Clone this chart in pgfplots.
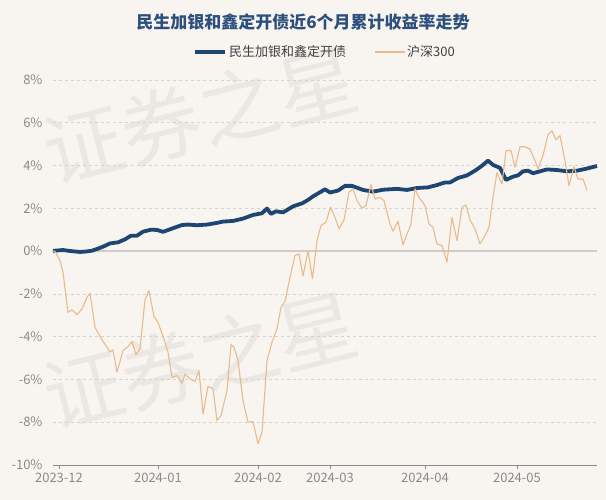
\documentclass[border=0pt]{standalone}
\usepackage{fontspec}
\setmainfont{Noto Sans CJK SC}
\usepackage{pgfplots}
\pgfplotsset{compat=1.18}
\definecolor{bg}{HTML}{F8F5F1}
\definecolor{navy}{HTML}{1F4670}
\definecolor{tanc}{HTML}{E8BB8C}
\definecolor{titleblue}{HTML}{2C4F7C}
\definecolor{ticktext}{HTML}{8A8A8A}
\definecolor{gridc}{HTML}{D6D3CF}
\definecolor{zeroc}{HTML}{CFCDCB}
\begin{document}
\begin{tikzpicture}[x=1pt,y=1pt]
\fill[bg] (0pt,0pt) rectangle (606pt,500pt);
\useasboundingbox (0pt,0pt) rectangle (606pt,500pt);
\foreach \cx/\cy in {200/385, 200/140}{
  \node[rotate=14, text=black, opacity=0.05, font=\fontsize{80}{80}\selectfont] at (\cx pt,\cy pt) {证券之星};
}
\node[font=\fontsize{17}{20}\selectfont\bfseries, text=titleblue] at (303pt,478pt) {民生加银和鑫定开债近6个月累计收益率走势};
\begin{axis}[
  name=ax,
  at={(53pt,35pt)}, anchor=south west, scale only axis,
  width=544pt, height=385pt,
  xmin=53, xmax=597, ymin=-10, ymax=8,
  ytick={-10,-8,...,8},
  yticklabel={\pgfmathprintnumber{\tick}\%},
  xtick={59,158,258,330,425,517},
  xticklabels={2023-12,2024-01,2024-02,2024-03,2024-04,2024-05},
  /pgf/number format/assume math mode=true,
  tick label style={text=ticktext, font=\fontsize{13}{15}\selectfont},
  yticklabel style={xshift=-3pt},
  xticklabel style={yshift=-1pt},
  axis lines*=left,
  axis line style={-},
  x axis line style={draw=ticktext, line width=0.6pt},
  y axis line style={draw=none},
  ytick style={draw=none},
  xtick style={draw=ticktext, line width=0.6pt},
  tick align=outside,
  major tick length=4pt,
  ymajorgrids,
  grid style={dashed, gridc, line width=0.7pt},
  clip=false,
  legend columns=2,
  legend style={at={(0.5,1)}, anchor=center, yshift=28pt, draw=none, fill=none,
    font=\fontsize{13}{15}\selectfont, text=black!75,
    /tikz/every even column/.append style={column sep=26pt}},
  legend image code/.code={\draw[#1] (0pt,0pt) -- (30pt,0pt);},
]
\addplot[zeroc, line width=2.5pt, forget plot] coordinates {(53,0) (597,0)};
\addplot[navy, line width=3.8pt, line join=round] coordinates {
(53,0.02)(55,0.02)(63,0.05)(71,0.0)(80,-0.04)(86,-0.02)(92,0.02)(100,0.15)(105,0.25)(110,0.36)(118,0.41)(125,0.55)(131,0.72)(137,0.72)(143,0.91)(151,1.0)(157,0.99)(163,0.90)(173,1.07)(182,1.22)(188,1.24)(197,1.21)(207,1.24)(217,1.32)(223,1.38)(233,1.41)(243,1.52)(253,1.69)(262,1.77)(267,1.99)(271,1.74)(276,1.86)(283,1.81)(288,1.95)(293,2.09)(302,2.23)(308,2.39)(313,2.56)(320,2.75)(325,2.89)(330,2.74)(338,2.83)(345,3.05)(352,3.05)(363,2.86)(373,2.78)(383,2.87)(397,2.91)(407,2.86)(417,2.95)(428,2.98)(437,3.09)(445,3.21)(450,3.21)(458,3.42)(467,3.54)(475,3.76)(482,3.99)(488,4.23)(493,4.03)(500,3.89)(506,3.33)(513,3.48)(518,3.54)(523,3.73)(528,3.76)(533,3.64)(540,3.73)(547,3.82)(557,3.79)(567,3.73)(577,3.76)(587,3.86)(597,3.98)
};
\addlegendentry{民生加银和鑫定开债}
\addplot[tanc, line width=1.1pt, line join=round] coordinates {
(53,0)(55,-0.01)(60,-0.44)(63,-0.99)(68,-2.86)(72,-2.75)(77,-2.97)(82,-2.70)(87,-2.16)(90,-1.97)(95,-3.56)(102,-4.15)(110,-4.70)(113,-4.62)(117,-5.66)(123,-4.65)(128,-4.46)(132,-4.23)(136,-4.84)(140,-4.57)(145,-2.28)(149,-1.85)(154,-3.06)(158,-3.33)(165,-4.26)(168,-4.73)(172,-5.90)(177,-5.82)(182,-6.18)(185,-5.74)(190,-5.97)(195,-6.10)(199,-5.58)(203,-7.61)(208,-6.33)(213,-6.44)(217,-7.92)(221,-7.69)(227,-6.52)(231,-4.37)(234,-4.49)(238,-5.12)(243,-6.99)(248,-8.0)(253,-7.97)(258,-9.01)(262,-8.47)(267,-5.12)(272,-4.26)(277,-3.64)(281,-2.63)(285,-2.35)(290,-1.22)(295,-0.21)(299,-0.13)(303,-1.16)(308,0)(312.5,-1.30)(317,0.49)(321,1.2)(326,1.35)(330.5,2.05)(335,1.58)(339,1.04)(344,1.46)(349,2.75)(353,2.91)(357,2.36)(362,2.0)(366,2.13)(371,3.11)(375,2.44)(380,2.51)(384,2.36)(390,1.27)(393,0.93)(398,1.39)(403,0.29)(407,0.80)(411,1.27)(415,2.91)(419,2.51)(425,2.13)(429,1.27)(433,1.11)(437,0.34)(442,0.26)(447,-0.52)(452,1.58)(457,0.49)(462,2.05)(466,2.16)(470,1.46)(475,1.04)(480,0.34)(485,0.72)(489,1.11)(493,2.51)(497,3.68)(502,3.14)(506,4.70)(511,4.70)(515,3.92)(520,4.88)(525,4.88)(530,4.77)(535,4.23)(538,3.84)(543,4.46)(548,5.44)(552,5.63)(556,5.20)(560,5.40)(565,4.23)(569,3.06)(574,3.95)(578,3.37)(583,3.37)(587,2.86)
};
\addlegendentry{沪深300}
\end{axis}
\end{tikzpicture}
\end{document}
